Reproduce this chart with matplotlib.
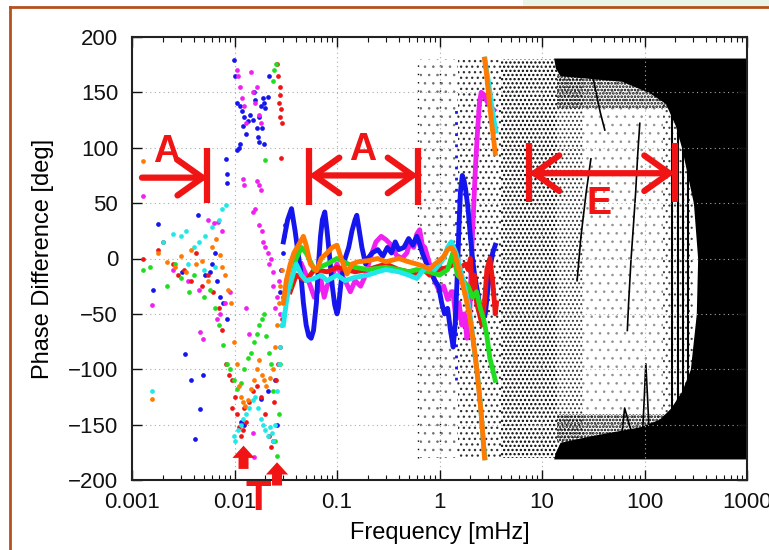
import numpy as np
import matplotlib.pyplot as plt
from matplotlib.lines import Line2D
from matplotlib.patches import Rectangle

plt.rcParams['font.family'] = ['Liberation Sans', 'DejaVu Sans']

# --- low frequency scatter of the six runs (mHz, deg) ---
blue_dot_f = [0.0098, 0.0100, 0.0106, 0.0112, 0.0118, 0.0125, 0.0120, 0.0130, 0.0135, 0.0142,
              0.0150, 0.0155, 0.0160, 0.0165, 0.0170, 0.0175, 0.0180, 0.0188, 0.0195, 0.0200,
              0.0210, 0.0215, 0.0105, 0.0110, 0.0114, 0.0192, 0.0185, 0.0172,
              0.0082, 0.0085, 0.0084, 0.0044, 0.0018,
              0.0016, 0.0033, 0.0038, 0.0049, 0.0046, 0.0041, 0.0052, 0.0060, 0.0068, 0.0072,
              0.0078, 0.0085, 0.0065, 0.0058, 0.0031, 0.0125, 0.0115, 0.021, 0.018, 0.026, 0.025,
              0.0275, 0.0285, 0.0295, 0.0305, 0.031, 0.032]
blue_dot_ph = [179, 165, 140, 138, 133, 128, 120, 112, 124, 130,
               125, 150, 143, 118, 110, 128, 138, 145, 140, 136,
               146, 165, 98, 100, 103, 103, 118, 105,
               90, 76, 68, 39, 31,
               -28, -86, -110, -105, -136, -163, -15, -5, -20, -35,
               -40, -55, 5, -12, -12, -150, -148, -120, -127, -150, -110,
               -30, -10, 5, 20, 30, -20]

magenta_dot_f = [0.0105, 0.0108, 0.0112, 0.0118, 0.0125, 0.0130, 0.0145, 0.0150, 0.0158, 0.0165,
                 0.0175, 0.0182, 0.0120, 0.0125, 0.0165, 0.0180, 0.0175,
                 0.0150, 0.0160, 0.0175, 0.0185, 0.0190, 0.0200, 0.0210, 0.0215, 0.0225, 0.0235,
                 0.0240, 0.0260, 0.0270, 0.0250, 0.0280,
                 0.00128, 0.0055, 0.0063, 0.0069, 0.0075, 0.00157, 0.0025, 0.0035, 0.0045, 0.0046,
                 0.0049, 0.0067, 0.0072, 0.0080, 0.0090, 0.0130, 0.0140, 0.0150, 0.0155]
magenta_dot_ph = [170, 165, 155, 145, 138, 122, 168, 150, 140, 155,
                  130, 122, 72, 66, 70, 62, 66,
                  42, 45, 30, 25, 15, 10, 5, -5, 0, -12,
                  -25, -35, -20, -45, -50,
                  56, 35, 32, 33, 25, -42, -10, -20, -28, -66,
                  -73, -55, -50, -40, -30, -45, -68, -158, -179]

red_dot_f = [0.0260, 0.0265, 0.0275, 0.0280, 0.0270, 0.0285, 0.0278, 0.0290, 0.0285,
             0.00128, 0.0018, 0.0020, 0.0025, 0.0028, 0.0032, 0.0038, 0.0042, 0.0048, 0.0055,
             0.0062, 0.0070, 0.0075, 0.0082, 0.0088, 0.0095, 0.0100, 0.0105, 0.0110, 0.0115,
             0.0120, 0.0130, 0.0140, 0.0150, 0.0165, 0.0180, 0.0200, 0.0215, 0.0225, 0.0235,
             0.0245, 0.0255, 0.0265, 0.0275, 0.0290, 0.0300, 0.0095, 0.0125]
red_dot_ph = [176, 165, 155, 148, 140, 135, 128, 122, 91,
              0, 8, 15, -5, -15, -10, -20, 5, -25, -15,
              -30, -45, -65, -95, -105, -110, -125, -140, -152, -160,
              -155, -148, -130, -120, -115, -125, -140, -160, -170, -165,
              -130, -110, -95, -80, -55, -35, -135, -135]

green_dot_f = [0.0255, 0.0245, 0.0240, 0.0200,
               0.00128, 0.0015, 0.0022, 0.0026, 0.0030, 0.0036, 0.0040, 0.0050, 0.0058, 0.0065,
               0.0070, 0.0078, 0.0085, 0.0090, 0.0098, 0.0105, 0.0115, 0.0125, 0.0135, 0.0145,
               0.0155, 0.0165, 0.0175, 0.0185, 0.0195, 0.0205, 0.0215, 0.0225, 0.0240, 0.0250,
               0.0260, 0.0270, 0.0280, 0.0290, 0.0300, 0.0320]
green_dot_ph = [176, 170, 160, 89,
                -10, -8, -25, -5, -18, -30, -15, -35, -28, -45,
                -60, -78, -95, -100, -110, -118, -112, -100, -90, -85,
                -75, -68, -60, -55, -50, -70, -85, -95, -120, -165,
                -178, -140, -95, -60, -40, -20]

cyan_dot_f = [0.00157, 0.0020, 0.0025, 0.0030, 0.0034, 0.0040, 0.0045, 0.0052, 0.0060, 0.0070,
              0.0075, 0.0082, 0.0035, 0.0050, 0.0065,
              0.0098, 0.0102, 0.0108, 0.0115, 0.0122, 0.0130, 0.0140, 0.0150, 0.0160, 0.0170,
              0.0180, 0.0190, 0.0200, 0.0210, 0.0220, 0.0230, 0.0240, 0.0250, 0.0260, 0.0270,
              0.0275, 0.0285, 0.0295]
cyan_dot_ph = [-120, 15, 22, 20, 25, 10, 15, 20, 28, 35,
               45, 48, -5, -10, -8,
               -160, -165, -155, -150, -145, -140, -135, -128, -125, -135,
               -145, -150, -155, -160, -152, -158, -165, -150, -120, -95,
               -80, -60, -50]

orange_dot_f = [0.00128, 0.00157, 0.0018, 0.0022, 0.0026, 0.0030, 0.0034, 0.0038, 0.0042, 0.0048,
                0.0055, 0.0060, 0.0066, 0.0072, 0.0076, 0.0080, 0.0087, 0.0092, 0.0098, 0.0105,
                0.0110, 0.0115, 0.0120, 0.0128, 0.0135, 0.0145, 0.0155, 0.0165, 0.0175, 0.0185,
                0.0195, 0.0205, 0.0220, 0.0235, 0.0250, 0.0260, 0.0270, 0.0280, 0.0290]
orange_dot_ph = [88, -127, 5, -3, -8, 2, -12, 8, -5, -2,
                 -20, 10, 18, 3, -8, -15, -28, -40, -75, -95,
                 -115, -125, -130, -133, -128, -118, -110, -100, -92, -105,
                 -110, -115, -108, -100, -80, -60, -40, -25, -10]

# --- phase curves above 0.03 mHz ---
blue_f = [0.030, 0.033, 0.036, 0.039, 0.041, 0.044, 0.047, 0.050, 0.053, 0.056,
          0.059, 0.063, 0.066, 0.069, 0.072, 0.076, 0.080, 0.085, 0.090, 0.095,
          0.100, 0.103, 0.110, 0.120, 0.130, 0.140, 0.150, 0.156, 0.165, 0.175,
          0.190, 0.200, 0.220, 0.250, 0.280, 0.310, 0.340, 0.370, 0.400, 0.450,
          0.500, 0.550, 0.600, 0.630, 0.680, 0.750, 0.820, 0.900, 0.980, 1.05,
          1.12, 1.20, 1.28, 1.36, 1.42, 1.50, 1.55, 1.60, 1.67, 1.74,
          1.80, 1.90, 2.00, 2.10, 2.20, 2.35, 2.50, 2.65, 2.80, 2.95,
          3.10, 3.30, 3.50]
blue_ph = [15, 35, 45, 25, 10, -10, -40, -60, -70, -72,
           -65, -40, -5, 20, 35, 42, 25, 0, -25, -42,
           -50, -45, -20, 0, 10, 25, 35, 39, 25, 10,
           -5, 0, 5, 8, 2, 10, 5, 15, 8, 10,
           18, 12, 20, 15, 5, -5, -12, -20, -25, -40,
           -50, -45, -65, -80, -60, -10, 30, 60, 75, 70,
           62, 45, 20, 0, -15, -30, -45, -55, -50, -30,
           -10, 5, 12]

magenta_f = [0.045, 0.050, 0.055, 0.060, 0.065, 0.070, 0.075, 0.080, 0.090, 0.100,
             0.110, 0.120, 0.135, 0.150, 0.170, 0.190, 0.210, 0.240, 0.270, 0.300,
             0.340, 0.380, 0.430, 0.480, 0.520, 0.560, 0.600, 0.640, 0.680, 0.720,
             0.800, 0.900, 1.00, 1.10, 1.20, 1.30, 1.35, 1.45, 1.55, 1.65,
             1.75, 1.85, 1.95, 2.05, 2.15, 2.25, 2.35, 2.45, 2.55, 2.70,
             2.90, 3.10, 3.40]
magenta_ph = [-5, -15, -25, -35, -30, -20, -35, -25, -15, -5,
              -15, -20, -30, -20, -25, -15, 0, 15, 20, 17,
              12, 3, 0, 5, 15, 10, 22, 26, 12, 10,
              -5, -20, -30, -25, -37, -30, -30, -55, -40, -60,
              -50, -72, -65, 0, 45, 85, 115, 140, 150, 148,
              142, 138, 134]

red_f = [0.035, 0.040, 0.050, 0.060, 0.080, 0.100, 0.150, 0.200, 0.300, 0.400,
         0.500, 0.600, 0.700, 0.800, 0.900, 1.00, 1.20, 1.40, 1.60, 1.80,
         1.90, 2.00, 2.10, 2.20, 2.30, 2.45, 2.60, 2.75, 2.90, 3.10,
         3.30, 3.50, 3.60]
red_ph = [-30, -15, -20, -10, -12, -8, -12, -10, -5, -10,
          -12, -15, -10, -15, -12, -10, -8, -5, -8, -5,
          -10, 0, -30, -15, -40, -50, -60, -40, -10, 0,
          -20, -50, -40]

green_f = [0.035, 0.040, 0.045, 0.050, 0.060, 0.080, 0.100, 0.150, 0.200, 0.300,
           0.400, 0.500, 0.600, 0.800, 1.00, 1.20, 1.35, 1.50, 1.70, 1.90,
           2.10, 2.30, 2.50, 2.70, 2.90, 3.10, 3.30, 3.50]
green_ph = [-25, 0, 10, 5, -10, -5, 0, -8, -10, -8,
            -10, -12, -10, -12, -15, -10, 5, -15, -20, -25,
            -35, -30, -45, -55, -70, -90, -100, -110]

cyan_f = [0.030, 0.032, 0.034, 0.037, 0.040, 0.045, 0.050, 0.060, 0.070, 0.080,
          0.100, 0.120, 0.150, 0.200, 0.250, 0.300, 0.400, 0.500, 0.600, 0.700,
          0.800, 0.900, 1.00, 1.10, 1.20, 1.30, 1.45, 1.60, 1.75, 1.90,
          2.05, 2.20, 2.35, 2.50, 2.60, 2.70, 2.78]
cyan_ph = [-60, -40, -25, -15, -5, -15, -20, -18, -15, -20,
           -15, -20, -17, -15, -12, -10, -12, -15, -18, -10,
           -8, -10, -5, 0, 10, 15, 5, -10, -25, -40,
           -60, -85, -105, -130, -150, -170, -180]
cyan_wrap_f = [2.78, 2.85, 3.00, 3.20, 3.40, 3.55]
cyan_wrap_ph = [180, 172, 160, 140, 125, 115]

orange_f = [0.030, 0.032, 0.035, 0.038, 0.042, 0.047, 0.050, 0.055, 0.063, 0.070,
            0.080, 0.090, 0.100, 0.110, 0.125, 0.140, 0.160, 0.200, 0.250, 0.300,
            0.400, 0.500, 0.600, 0.700, 0.800, 0.900, 1.00, 1.10, 1.20, 1.30,
            1.40, 1.50, 1.65, 1.80, 1.95, 2.10, 2.25, 2.40, 2.55, 2.65,
            2.75]
orange_ph = [-40, -20, -5, 5, 12, 20, 12, -5, -11, 0,
             5, 10, 12, 0, -14, -5, -3, -2, 0, -3,
             0, -3, -5, -7, -10, -5, -2, 2, 8, 10,
             6, -5, -20, -35, -50, -70, -90, -115, -140, -160,
             -180]
orange_wrap_f = [2.75, 2.85, 3.00, 3.20, 3.35, 3.50]
orange_wrap_ph = [180, 170, 150, 125, 110, 95]

# blue points scattered up a column near 1.45 mHz
blue_col_f = 1.45
blue_col_span = (-110, 140)

# --- incoherent (noise) region ---
noise_col_f = [0.62, 1.0]
stipple_edges = [0.65, 1.5, 4.0, 14.0, 25.0, 150.0, 300.0]
stipple_hatch = ['..', '...', '....', '....', '..', '...']
stipple_shade = ['#707070', '#303030', '#000000', '#303030', '#909090', '#404040']
stipple_lw = [0.6, 0.9, 1.1, 0.9, 0.6, 0.8]
band_span = (14.0, 300.0)
band_top = (135, 165)
band_bot = (-165, -140)
solid_edge_ph = [181, 172, 165, 160, 150, 140, 120, 100, 50, 0,
                 -50, -100, -120, -135, -145, -152, -160, -166, -175, -181]
solid_edge_f = [13, 13.5, 15, 60, 110, 160, 200, 230, 300, 330,
                320, 280, 230, 180, 140, 90, 30, 15, 13.5, 13]
streak_f = [[30, 32, 34, 37, 41], [90, 86, 82, 78, 74, 70, 68], [95, 99, 103, 107, 112],
            [22, 24, 27, 30], [60, 64, 70, 78]]
streak_ph = [[176, 160, 148, 132, 116], [122, 95, 60, 30, 0, -40, -65], [-165, -130, -95, -125, -165],
             [-20, 20, 60, 90], [-160, -135, -148, -162]]
streak_cols = [185, 210, 240, 265]

colors = {'blue': '#1515ee', 'magenta': '#f020f0', 'red': '#ee1515',
          'green': '#20dd20', 'cyan': '#20e8e8', 'orange': '#ff7a00'}
RED = '#f01414'


def stipple(ax, x, y0, y1, hatch, shade, lw):
    # dotted texture standing in for the dense cloud of tiny black points
    with plt.rc_context({'hatch.linewidth': lw}):
        ax.fill_between(x, y0, y1, facecolor='none', edgecolor=shade, hatch=hatch, lw=0, zorder=1)


fig = plt.figure(figsize=(7.69, 5.5), dpi=100)
ax = fig.add_axes([132 / 769, 70 / 550, 615 / 769, 443 / 550])
ax.set_xscale('log')
ax.set_xlim(0.001, 1000)
ax.set_ylim(-200, 200)

# noise cloud
ax.vlines(noise_col_f, -180, 180, colors='k', linestyles=(0, (1, 5)), lw=1.0, zorder=1)
for i in range(len(stipple_hatch)):
    stipple(ax, stipple_edges[i:i + 2], -180, 180, stipple_hatch[i], stipple_shade[i], stipple_lw[i])
stipple(ax, list(band_span), *band_top, '.....', 'k', 1.3)
stipple(ax, list(band_span), *band_bot, '.....', 'k', 1.3)
ax.fill_betweenx(solid_edge_ph, solid_edge_f, 1000, color='k', lw=0, zorder=1)
for sf, sp in zip(streak_f, streak_ph):
    ax.plot(sf, sp, color='k', lw=1.2, zorder=1)
ax.vlines(streak_cols, -150, 150, colors='k', lw=1.5, zorder=1)

# low-frequency scatter
dots = [(blue_dot_f, blue_dot_ph, 'blue'), (magenta_dot_f, magenta_dot_ph, 'magenta'),
        (red_dot_f, red_dot_ph, 'red'), (green_dot_f, green_dot_ph, 'green'),
        (cyan_dot_f, cyan_dot_ph, 'cyan'), (orange_dot_f, orange_dot_ph, 'orange')]
for f, ph, c in dots:
    ax.plot(f, ph, 'o', ms=3.4, mec='none', color=colors[c], zorder=3)

ax.vlines(blue_col_f, *blue_col_span, colors=colors['blue'], linestyles=(0, (1, 3)), lw=2, zorder=3)

curves = [(magenta_f, magenta_ph, 'magenta'), (blue_f, blue_ph, 'blue'),
          (red_f, red_ph, 'red'), (green_f, green_ph, 'green'),
          (cyan_f, cyan_ph, 'cyan'), (cyan_wrap_f, cyan_wrap_ph, 'cyan'),
          (orange_f, orange_ph, 'orange'), (orange_wrap_f, orange_wrap_ph, 'orange')]
for f, ph, c in curves:
    ax.plot(f, ph, '-', lw=3.5, color=colors[c], solid_joinstyle='round', zorder=4)

# axes styling
ax.set_yticks(np.arange(-200, 201, 50))
xt = [0.001, 0.01, 0.1, 1, 10, 100, 1000]
ax.set_xticks(xt)
ax.set_xticklabels(['0.001', '0.01', '0.1', '1', '10', '100', '1000'])
ax.tick_params(which='both', direction='in', top=True, right=True, labelsize=16, colors='#111')
ax.tick_params(which='major', length=7, width=1.0)
ax.tick_params(which='minor', length=3.5, width=0.8)
ax.tick_params(axis='x', pad=9)
ax.tick_params(axis='y', pad=10)
ax.grid(True, which='major', color='#aaaaaa', lw=0.8, linestyle=(0, (1, 3)))
for s in ax.spines.values():
    s.set_linewidth(1.5)
    s.set_color('#222')
ax.set_xlabel('Frequency [mHz]', fontsize=17, labelpad=6)
ax.set_ylabel('Phase Difference [deg]', fontsize=17, labelpad=10)

# annotations
arrow_kw = dict(arrowstyle='->,head_length=0.45,head_width=0.32', color=RED, lw=4.5,
                mutation_scale=40, shrinkA=0, shrinkB=0)
dbl_kw = dict(arrow_kw, arrowstyle='<->,head_length=0.45,head_width=0.32')
ax.annotate('', xy=(0.0055, 73), xytext=(0.00125, 73), arrowprops=arrow_kw, annotation_clip=False)
ax.vlines([0.0054], 50, 100, colors=RED, lw=4.5, zorder=5)
ax.annotate('', xy=(0.0532, 75), xytext=(0.619, 75), arrowprops=dbl_kw)
ax.vlines([0.0532, 0.619], 48, 100, colors=RED, lw=4.5, zorder=5)
ax.annotate('', xy=(7.45, 77), xytext=(197, 77), arrowprops=dbl_kw)
ax.vlines([7.45, 197], 51, 104, colors=RED, lw=4.5, zorder=5)
txt_kw = dict(color=RED, fontsize=27, fontweight='bold', ha='center', va='center', zorder=6)
ax.text(0.00217, 96, 'A', **txt_kw)
ax.text(0.177, 98, 'A', **txt_kw)
ax.text(35.6, 49, 'E', **txt_kw)
up_kw = dict(arrowstyle='simple,head_length=0.55,head_width=1.0,tail_width=0.45',
             fc=RED, ec='none', mutation_scale=16, shrinkA=0, shrinkB=0)
ax.annotate('', xy=(0.01225, -169), xytext=(0.01225, -190), arrowprops=up_kw, annotation_clip=False)
ax.annotate('', xy=(0.026, -184), xytext=(0.026, -205), arrowprops=up_kw, annotation_clip=False)
ax.text(0.0169, -217, 'T', color=RED, fontsize=30, fontweight='bold', ha='center',
        va='center', clip_on=False, zorder=6)

# page frame
fig.add_artist(Rectangle((0.68, 1 - 7 / 550), 0.32, 7 / 550, transform=fig.transFigure,
                         color='#e9f5e6', lw=0))
fig.add_artist(Line2D([10 / 769, 10 / 769], [0, 1 - 7 / 550], transform=fig.transFigure,
                      color='#b4521e', lw=2))
fig.add_artist(Line2D([10 / 769, 1], [1 - 7 / 550, 1 - 7 / 550], transform=fig.transFigure,
                      color='#b4521e', lw=2))

fig.savefig('out.png', dpi=100)
